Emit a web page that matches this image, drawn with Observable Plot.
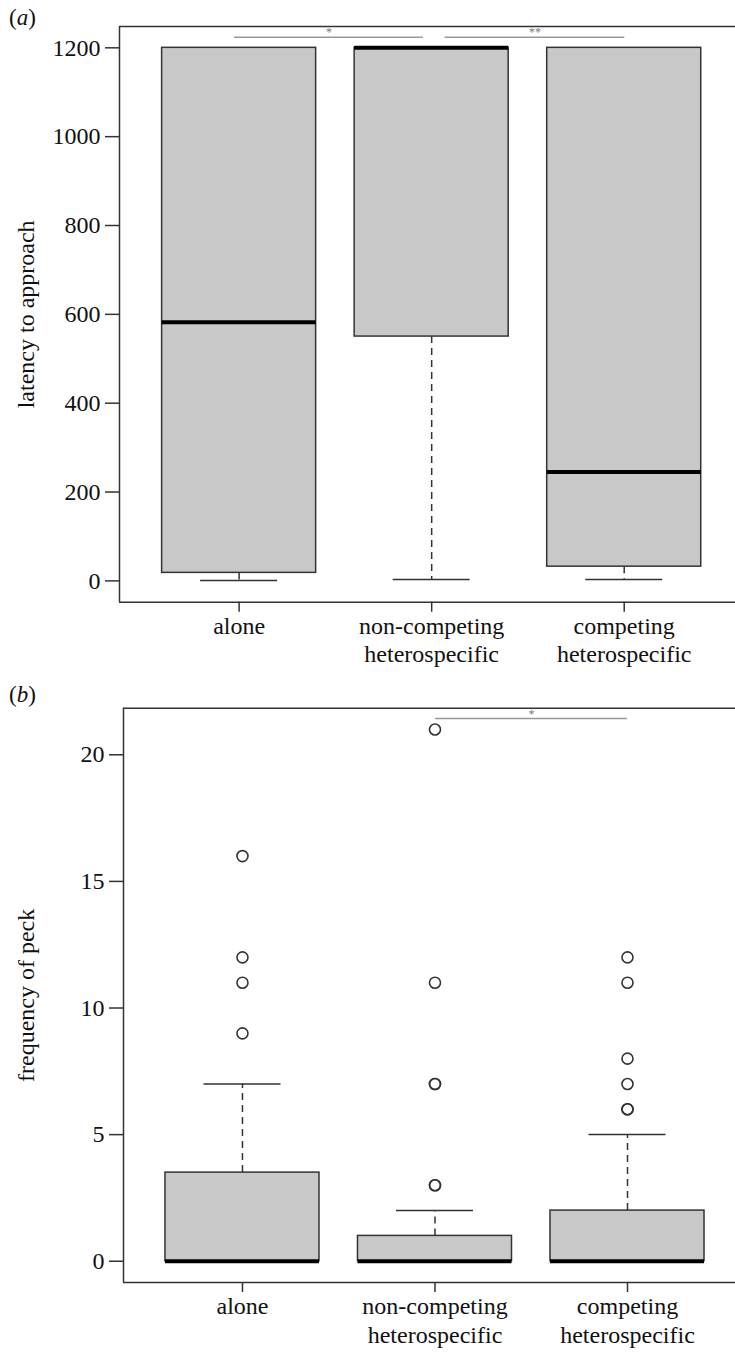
<!DOCTYPE html>
<html>
<head>
<meta charset="utf-8">
<script src="https://cdn.jsdelivr.net/npm/d3@7"></script>
<script src="https://cdn.jsdelivr.net/npm/@observablehq/plot@0.6"></script>
<style>
  html, body { margin: 0; padding: 0; background: #fff; }
  #wrap { position: relative; width: 735px; height: 1353px; overflow: hidden; font-family: "Liberation Serif", "Times New Roman", serif; }
  .tag { position: absolute; left: 9px; font-size: 23px; line-height: 23px; color: #111; }
  .panel { position: absolute; left: 0; }
</style>
</head>
<body>
<div id="wrap">
  <div class="panel" id="pa" style="top:0px"></div>
  <div class="panel" id="pb" style="top:680px"></div>
  <div class="tag" style="top:6px">(<i>a</i>)</div>
  <div class="tag" style="top:683px">(<i>b</i>)</div>
</div>
<script>
// ---------- data ----------
const categories = ["alone", "non-competing\nheterospecific", "competing\nheterospecific"];

// (a) latency to approach
const latencyLower  = [1, 3, 3];
const latencyQ1     = [18, 550, 32];
const latencyMedian = [582, 1200, 245];
const latencyQ3     = [1200, 1200, 1200];
const latencyUpper  = [1200, 1200, 1200];
const latencyOutliers = [[], [], []];
const latencyTicks = [0, 200, 400, 600, 800, 1000, 1200];
const latencySigFrom  = [0.976, 2.07];
const latencySigTo    = [1.957, 3.003];
const latencySigY     = [1224, 1224];
const latencySigLabel = ["*", "**"];

// (b) frequency of peck
const peckLower  = [0, 0, 0];
const peckQ1     = [0, 0, 0];
const peckMedian = [0, 0, 0];
const peckQ3     = [3.5, 1, 2];
const peckUpper  = [7, 2, 5];
const peckOutliers = [[9, 11, 12, 16], [3, 3, 7, 7, 11, 21], [6, 6, 7, 8, 11, 12]];
const peckTicks = [0, 5, 10, 15, 20];
const peckSigFrom  = [2.003];
const peckSigTo    = [3.0];
const peckSigY     = [21.43];
const peckSigLabel = ["*"];

// ---------- drawing ----------
const INK = "#333";
function panel(o) {
  const boxes = categories.map((c, i) => ({
    pos: i + 1, lo: o.lower[i], q1: o.q1[i], med: o.median[i], q3: o.q3[i], hi: o.upper[i]
  }));
  const dots = o.outliers.flatMap((arr, i) => arr.map(v => ({pos: i + 1, v})));
  const sig = o.sigFrom.map((f, i) => ({x1: f, x2: o.sigTo[i], y: o.sigY[i], label: o.sigLabel[i]}));
  const [x0, x1] = o.xDomain;
  const [y0, y1] = o.yDomain;
  return Plot.plot({
    width: 735,
    height: o.height,
    marginLeft: o.marginLeft,
    marginRight: 0,
    marginTop: o.marginTop,
    marginBottom: o.marginBottom,
    style: {fontFamily: "'Liberation Serif', 'Times New Roman', serif", fontSize: "24px", color: "#111", background: "transparent", overflow: "visible"},
    x: {type: "linear", domain: o.xDomain},
    y: {domain: o.yDomain},
    marks: [
      // whiskers
      Plot.ruleX(boxes.filter(d => d.hi > d.q3), {x: "pos", y1: "q3", y2: "hi", stroke: INK, strokeWidth: 1.5, strokeDasharray: "7,5"}),
      Plot.ruleX(boxes.filter(d => d.lo < d.q1), {x: "pos", y1: "q1", y2: "lo", stroke: INK, strokeWidth: 1.5, strokeDasharray: "7,5"}),
      Plot.ruleY(boxes.filter(d => d.hi > d.q3), {y: "hi", x1: d => d.pos - 0.2, x2: d => d.pos + 0.2, stroke: INK, strokeWidth: 1.5}),
      Plot.ruleY(boxes.filter(d => d.lo < d.q1), {y: "lo", x1: d => d.pos - 0.2, x2: d => d.pos + 0.2, stroke: INK, strokeWidth: 1.5}),
      // boxes
      Plot.rect(boxes, {x1: d => d.pos - 0.4, x2: d => d.pos + 0.4, y1: "q1", y2: "q3", fill: "#c8c8c8", stroke: INK, strokeWidth: 1.5}),
      // medians
      Plot.ruleY(boxes, {y: "med", x1: d => d.pos - 0.4, x2: d => d.pos + 0.4, stroke: "#000", strokeWidth: 4}),
      // outliers
      Plot.dot(dots, {x: "pos", y: "v", r: 5.5, stroke: INK, strokeWidth: 1.6, fill: "none"}),
      // significance bars
      Plot.ruleY(sig, {y: "y", x1: "x1", x2: "x2", stroke: "#999", strokeWidth: 1.5}),
      Plot.text(sig, {x: d => (d.x1 + d.x2) / 2, y: "y", text: "label", fontSize: 12, fill: "#777", lineAnchor: "bottom", dy: -1}),
      // frame (left, top, bottom; right edge falls outside the picture)
      Plot.ruleX([x0], {y1: y0, y2: y1, stroke: INK, strokeWidth: 1.5}),
      Plot.ruleY([y0, y1], {x1: x0, x2: x1 + 1, stroke: INK, strokeWidth: 1.5}),
      // axes
      Plot.axisY({ticks: o.ticks, tickFormat: d => String(d), tickSize: 14, tickPadding: 5, stroke: INK, strokeWidth: 1.5,
        label: o.label, labelAnchor: "center", labelArrow: "none", labelOffset: o.labelOffset}),
      Plot.axisX({ticks: [1, 2, 3], tickFormat: d => categories[d - 1], tickSize: 10, tickPadding: 1,
        stroke: INK, strokeWidth: 1.5, lineHeight: 1.2, label: null})
    ]
  });
}

document.getElementById("pa").appendChild(panel({
  lower: latencyLower, q1: latencyQ1, median: latencyMedian, q3: latencyQ3, upper: latencyUpper,
  outliers: latencyOutliers, ticks: latencyTicks,
  sigFrom: latencySigFrom, sigTo: latencySigTo, sigY: latencySigY, sigLabel: latencySigLabel,
  yDomain: [-48, 1248], xDomain: [0.3787, 3.578],
  height: 680, marginTop: 26, marginBottom: 78.3, marginLeft: 119, labelOffset: 103,
  label: "latency to approach"
}));

document.getElementById("pb").appendChild(panel({
  lower: peckLower, q1: peckQ1, median: peckMedian, q3: peckQ3, upper: peckUpper,
  outliers: peckOutliers, ticks: peckTicks,
  sigFrom: peckSigFrom, sigTo: peckSigTo, sigY: peckSigY, sigLabel: peckSigLabel,
  yDomain: [-0.84, 21.84], xDomain: [0.382, 3.561],
  height: 673, marginTop: 27.7, marginBottom: 71, marginLeft: 123, labelOffset: 107,
  label: "frequency of peck"
}));
</script>
</body>
</html>
